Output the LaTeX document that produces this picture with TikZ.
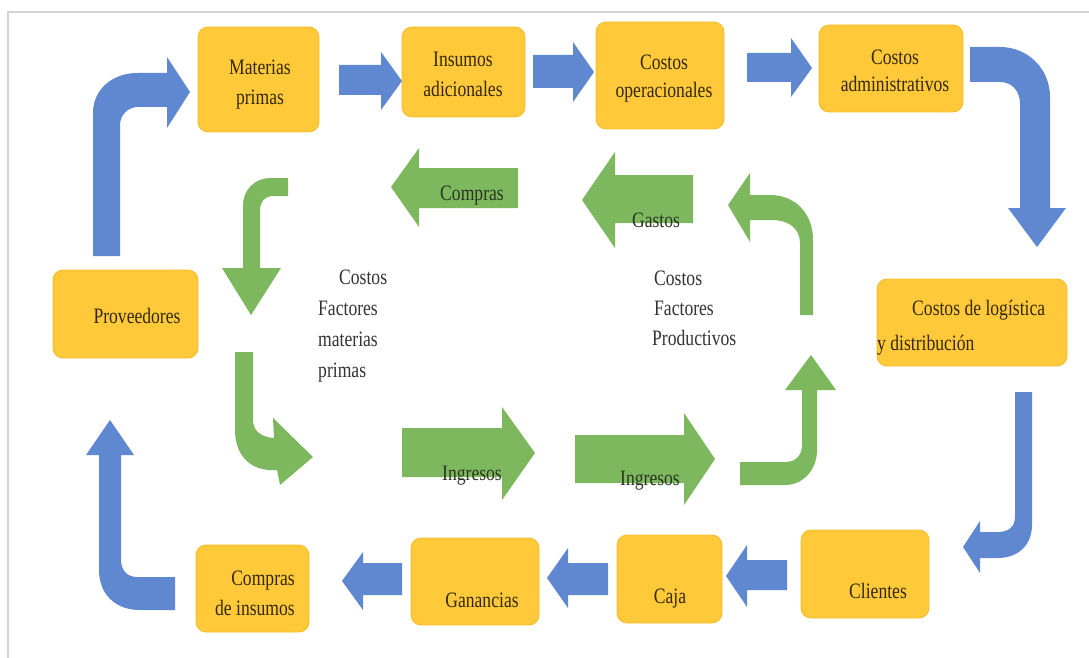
\documentclass[tikz,border=0pt]{standalone}
\usepackage{fontspec}
\setmainfont{Liberation Serif}[FakeStretch=0.8]
\definecolor{boxyellow}{HTML}{FFC93A}
\definecolor{boxedge}{HTML}{F5BC2C}
\definecolor{arrowblue}{HTML}{5F88D1}
\definecolor{arrowgreen}{HTML}{7DB85E}
\definecolor{boxtext}{HTML}{33290A}
\definecolor{freetext}{HTML}{333333}
\definecolor{arrowtext}{HTML}{2A3520}
\definecolor{framegray}{HTML}{D4D4D4}
\begin{document}
\begin{tikzpicture}[x=1pt,y=-1pt,
  box/.style={fill=boxyellow, draw=boxedge, line width=0.8pt, rounded corners=10pt, inner sep=0pt},
  blk/.style={fill=arrowblue},
  grn/.style={fill=arrowgreen},
  lbl/.style={font=\fontsize{22}{30}\selectfont, text=boxtext, inner sep=0pt},
  free/.style={font=\fontsize{22}{31}\selectfont, text=freetext, inner sep=0pt, align=left},
  albl/.style={font=\fontsize{22}{24}\selectfont, text=arrowtext, inner sep=0pt}]
\useasboundingbox (0,0) rectangle (1089,658);
\fill[white] (0,0) rectangle (1089,658);
\draw[framegray, line width=1.2pt] (8,658) -- (8,12) -- (1089,12);

% ---------- yellow boxes ----------
\node[box, minimum width=121pt, minimum height=105pt] (mat)  at (258.5,79.5) {};
\node[box, minimum width=123pt, minimum height=90pt]  (ins)  at (463.5,72)   {};
\node[box, minimum width=128pt, minimum height=107pt] (cop)  at (660,75.5)   {};
\node[box, minimum width=144pt, minimum height=87pt]  (cad)  at (891,68.5)   {};
\node[box, minimum width=190pt, minimum height=87pt]  (clog) at (972,322.5)  {};
\node[box, minimum width=145pt, minimum height=88pt]  (prov) at (125.5,314)  {};
\node[box, minimum width=113pt, minimum height=87pt]  (cins) at (252.5,588.5) {};
\node[box, minimum width=128pt, minimum height=87pt]  (gan)  at (475,581.5)  {};
\node[box, minimum width=105pt, minimum height=88pt]  (caja) at (669.5,579)  {};
\node[box, minimum width=128pt, minimum height=88pt]  (cli)  at (865,574)    {};

% ---------- box captions (base = baseline of the last line) ----------
\node[lbl, anchor=base, align=center] (matT)  at (260,105) {Materias\\primas};
\node[lbl, anchor=base, align=center] (insT)  at (463,97)  {Insumos\\adicionales};
\node[lbl, anchor=base, align=center, font=\fontsize{22}{28}\selectfont] (copT) at (664,98) {Costos\\operacionales};
\node[lbl, anchor=base, align=center, font=\fontsize{22}{27}\selectfont] (cadT) at (895,92) {Costos\\administrativos};
\node[lbl, anchor=base west, align=left, font=\fontsize{22}{35}\selectfont] (clogT) at (877,350) {\hspace*{35pt}Costos de logística\\y distribución};
\node[lbl, anchor=base] (provT) at (137,323) {Proveedores};
\node[lbl, anchor=base east, align=right] (cinsT) at (295,615) {Compras\\de insumos};
\node[lbl, anchor=base] (ganT)  at (482,607) {Ganancias};
\node[lbl, anchor=base] (cajaT) at (670,603) {Caja};
\node[lbl, anchor=base] (cliT)  at (878,598) {Clientes};

% ---------- blue straight arrows ----------
\fill[blk] (339,65) -- (381,65) -- (381,52) -- (402,81) -- (381,110) -- (381,95) -- (339,95) -- cycle;
\fill[blk] (533,55) -- (573,55) -- (573,42) -- (594,72) -- (573,102) -- (573,88) -- (533,88) -- cycle;
\fill[blk] (747,53) -- (791,53) -- (791,38) -- (812,68) -- (791,97) -- (791,82) -- (747,82) -- cycle;
\fill[blk] (787,560) -- (747,560) -- (747,545) -- (726,576) -- (747,607) -- (747,590) -- (787,590) -- cycle;
\fill[blk] (608,563) -- (568,563) -- (568,548) -- (547,578) -- (568,608) -- (568,595) -- (608,595) -- cycle;
\fill[blk] (402,563) -- (363,563) -- (363,552) -- (342,581) -- (363,610) -- (363,595) -- (402,595) -- cycle;

% ---------- blue bent arrows ----------
% Proveedores up to Materias primas
\fill[blk] (93,256) -- (93,113) .. controls (93,89) and (113,73) .. (137,73) -- (167,73) -- (167,57)
  -- (190,92) -- (167,128) -- (167,107) -- (138,107) .. controls (128,107) and (120,115) .. (120,125)
  -- (120,256) -- cycle;
% Costos administrativos down to logistica
\fill[blk] (970,47) -- (1000,47) .. controls (1028,47) and (1050,69) .. (1050,97) -- (1050,208)
  -- (1066,208) -- (1037,247) -- (1008,208) -- (1020,208) -- (1020,104)
  .. controls (1020,91) and (1012,82) .. (1000,82) -- (970,82) -- cycle;
% logistica down to Clientes
\fill[blk] (1015,392) -- (1032,392) -- (1032,525) .. controls (1032,545) and (1018,558) .. (998,558)
  -- (980,558) -- (980,573) -- (963,547) -- (980,521) -- (980,532) -- (998,532)
  .. controls (1008,532) and (1015,527) .. (1015,517) -- cycle;
% Compras de insumos up to Proveedores
\fill[blk] (175,577) -- (175,610) -- (140,610) .. controls (115,610) and (99,594) .. (99,570)
  -- (99,455) -- (86,455) -- (110,420) -- (134,455) -- (121,455) -- (121,560)
  .. controls (121,570) and (127,577) .. (137,577) -- cycle;

% ---------- green straight arrows ----------
\fill[grn] (518,168) -- (419,168) -- (419,148) -- (391,187) -- (419,227) -- (419,208) -- (518,208) -- cycle;
\fill[grn] (693,175) -- (615,175) -- (615,152) -- (582,200) -- (615,248) -- (615,223) -- (693,223) -- cycle;
\fill[grn] (402,428) -- (502,428) -- (502,407) -- (535,453) -- (502,500) -- (502,477) -- (402,477) -- cycle;
\fill[grn] (575,435) -- (684,435) -- (684,413) -- (715,459) -- (684,505) -- (684,483) -- (575,483) -- cycle;

% ---------- green bent arrows ----------
\fill[grn] (288,178) -- (288,196) -- (272,196) .. controls (265,196) and (260,202) .. (260,210)
  -- (260,268) -- (281,268) -- (251,315) -- (222,268) -- (243,268) -- (243,205)
  .. controls (243,190) and (255,178) .. (270,178) -- cycle;
\fill[grn] (235,352) -- (253,352) -- (253,420) .. controls (253,430) and (260,437) .. (274,438)
  -- (273,418) -- (313,457) -- (280,485) -- (277,470) .. controls (250,472) and (235,455) .. (235,430) -- cycle;
\fill[grn] (800,315) -- (813,315) -- (813,240) .. controls (813,213) and (795,195) .. (770,195)
  -- (750,195) -- (750,173) -- (728,205) -- (750,242) -- (750,220) -- (772,220)
  .. controls (788,220) and (800,228) .. (800,243) -- cycle;
\fill[grn] (740,462) -- (785,462) .. controls (796,462) and (802,455) .. (802,445) -- (802,390)
  -- (785,390) -- (811,355) -- (836,390) -- (817,390) -- (817,450)
  .. controls (817,470) and (803,485) .. (785,485) -- (740,485) -- cycle;

% ---------- arrow labels ----------
\node[albl, anchor=base] (compT) at (472,200) {Compras};
\node[albl, anchor=base] (gasT)  at (656,227) {Gastos};
\node[albl, anchor=base] (ing1T) at (472,480) {Ingresos};
\node[albl, anchor=base] (ing2T) at (650,485) {Ingresos};

% ---------- free text ----------
\node[free, anchor=base west] (cfm) at (318,377) {\hspace*{21pt}Costos\\Factores\\materias\\primas};
\node[free, anchor=base west, font=\fontsize{22}{30}\selectfont] (cfp) at (652,345) {\hspace*{2pt}Costos\\\hspace*{2pt}Factores\\Productivos};
\end{tikzpicture}
\end{document}
